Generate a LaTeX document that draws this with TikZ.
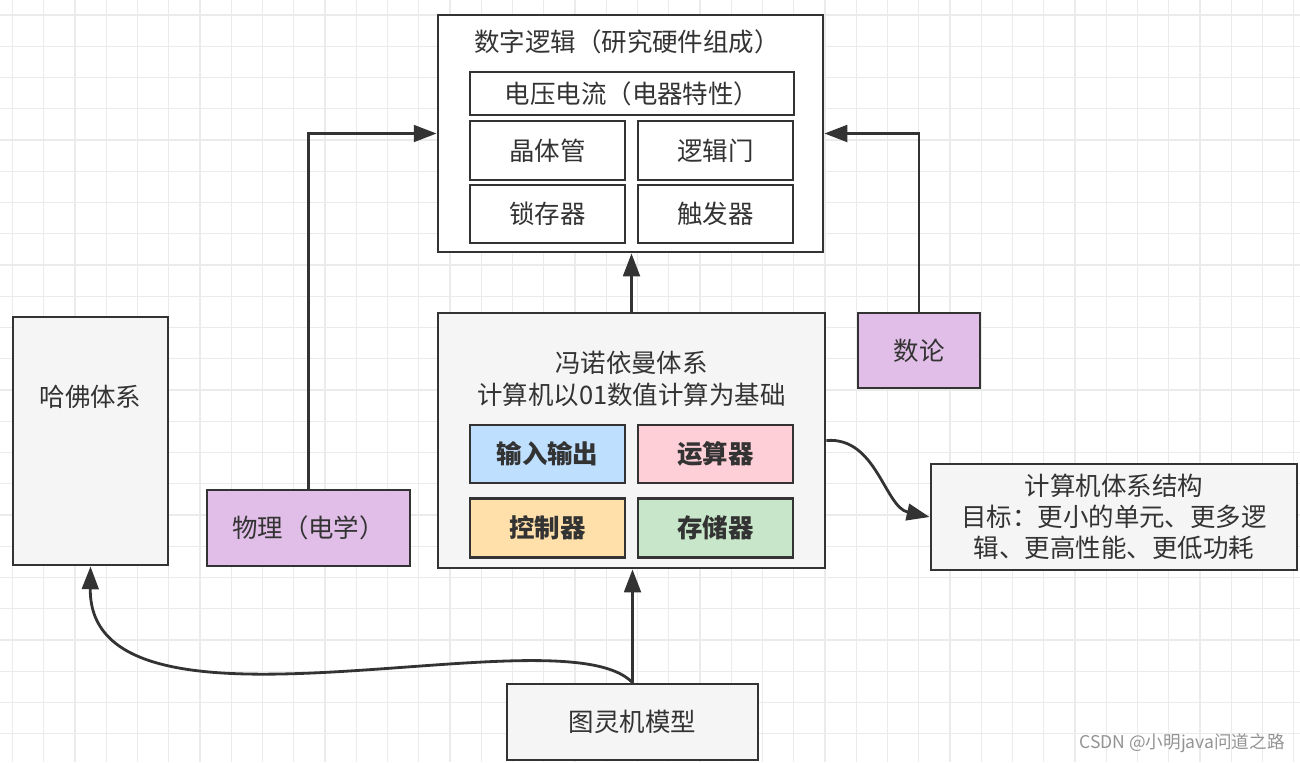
\documentclass[tikz,border=0pt]{standalone}
\usepackage{fontspec}
\setmainfont{Noto Sans CJK SC}
\usepackage{xcolor}
\usepackage{tikz}
\usetikzlibrary{arrows.meta, positioning}

\definecolor{linec}{HTML}{333333}
\definecolor{gridc}{HTML}{EBEBEB}
\definecolor{panel}{HTML}{F5F5F5}
\definecolor{lilac}{HTML}{E1BEE7}
\definecolor{iofill}{HTML}{BFDFFF}
\definecolor{alufill}{HTML}{FFCFD7}
\definecolor{ctrlfill}{HTML}{FFDFAA}
\definecolor{memfill}{HTML}{C8E6C9}

\begin{document}
\begin{tikzpicture}[
    x=0.02cm, y=-0.02cm,
    box/.style={draw=linec, line width=1.6pt, fill=white, inner sep=0pt, align=center, text=linec, font=\fontsize{14.5}{17.8}\selectfont},
    sz/.style 2 args={minimum width=#1*0.02cm, minimum height=#2*0.02cm},
    unit/.style={box, font=\fontsize{14.5}{17.8}\selectfont\bfseries},
    txt/.style={align=center, text=linec, inner sep=0pt, font=\fontsize{14.5}{17.8}\selectfont},
    arr/.style={-{Triangle[length=13pt, width=9.5pt]}, draw=linec, line width=1.6pt},
]

\useasboundingbox (0,0) rectangle (1300,762);

% Background grid
\foreach \x in {12.5,43.75,...,1300} {
    \draw[gridc, line width=0.7pt] (\x,0) -- (\x,762);
}
\foreach \y in {15,46.25,...,762} {
    \draw[gridc, line width=0.7pt] (0,\y) -- (1300,\y);
}

% Digital logic block
\node[box, sz={385}{237}] (digital) at (630.5,133.5) {};
\node[txt] (digitaltitle) at (627,42) {数字逻辑（研究硬件组成）};
\node[box, sz={324}{43}] (volt) at (632,93.5) {电压电流（电器特性）};
\node[box, sz={155}{59}] (transistor) at (547.5,150.5) {晶体管};
\node[box, sz={155}{59}] (gate) at (715.5,150.5) {逻辑门};
\node[box, sz={155}{58}] (latch) at (547.5,214) {锁存器};
\node[box, sz={155}{58}] (flipflop) at (715.5,214) {触发器};

% Von Neumann block
\node[box, fill=panel, sz={387}{255}] (vonneumann) at (631.5,440.5) {};
\node[txt] (vntitle) at (631.5,379) {冯诺依曼体系\\计算机以01数值计算为基础};
\node[unit, fill=iofill, sz={155}{58}] (io) at (547.5,454) {输入输出};
\node[unit, fill=alufill, sz={155}{58}] (alu) at (715.5,454) {运算器};
\node[unit, fill=ctrlfill, sz={155}{59}] (ctrl) at (547.5,528) {控制器};
\node[unit, fill=memfill, sz={155}{59}] (mem) at (715.5,528) {存储器};

% Side blocks
\node[box, fill=panel, sz={155}{248}] (harvard) at (90.5,441) {};
\node[txt] (harvardtitle) at (90.5,397) {哈佛体系};
\node[box, fill=lilac, sz={203}{76}] (physics) at (308.5,528) {物理（电学）};
\node[box, fill=lilac, sz={122}{75}] (numtheory) at (919,350.5) {数论};
\node[box, fill=panel, sz={366}{106}] (arch) at (1114,517) {计算机体系结构\\目标：更小的单元、更多逻\\辑、更高性能、更低功耗};
\node[box, fill=panel, sz={251}{76}] (turing) at (632.5,722) {图灵机模型};

% Connectors
\draw[arr] (physics.north) |- (digital.west);
\draw[arr] (numtheory.north) |- (digital.east);
\draw[arr] (vonneumann.north) -- (vonneumann.north |- digital.south);
\draw[arr] (turing.north) -- (turing.north |- vonneumann.south);
\draw[arr] (turing.north) .. controls +(-71,-74) and +(-2,193) .. (harvard.south);
\draw[arr] (vonneumann.east) .. controls +(50,-4) and +(-45,-10) .. (arch.west);

% Signature
\node[anchor=east, text=gray!85, inner sep=0pt, font=\fontsize{10}{12}\selectfont] (sign) at (1285,743) {CSDN @小明java问道之路};

\end{tikzpicture}
\end{document}
